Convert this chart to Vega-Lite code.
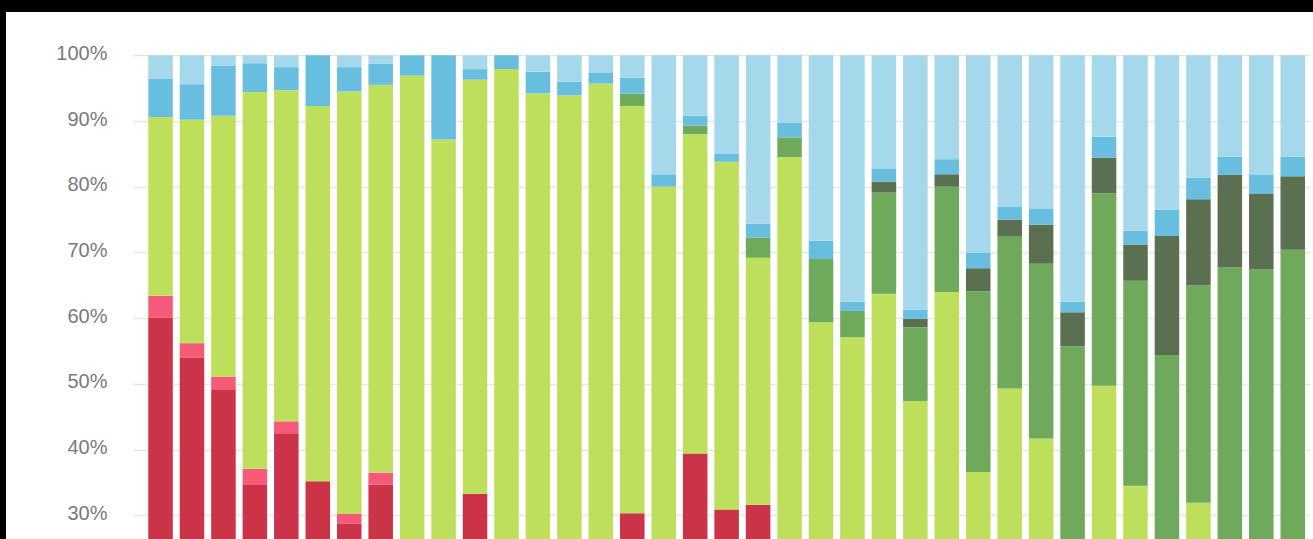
{
  "$schema": "https://vega.github.io/schema/vega-lite/v6.json",
  "width": 1307,
  "height": 527,
  "autosize": {"type": "none"},
  "padding": {"left": 6, "top": 12, "right": 0, "bottom": 0},
  "background": "#000000",
  "config": {"view": {"fill": "#ffffff", "stroke": null}},
  "data": {"values": [
    {"bar": 1, "s1": 60.1, "s2": 3.3, "s3": 27.2, "s4": 0, "s5": 0, "s6": 5.8, "s7": 3.6},
    {"bar": 2, "s1": 54.0, "s2": 2.2, "s3": 34.0, "s4": 0, "s5": 0, "s6": 5.4, "s7": 4.4},
    {"bar": 3, "s1": 49.2, "s2": 1.9, "s3": 39.7, "s4": 0, "s5": 0, "s6": 7.6, "s7": 1.6},
    {"bar": 4, "s1": 34.6, "s2": 2.5, "s3": 57.3, "s4": 0, "s5": 0, "s6": 4.4, "s7": 1.2},
    {"bar": 5, "s1": 42.5, "s2": 1.8, "s3": 50.4, "s4": 0, "s5": 0, "s6": 3.5, "s7": 1.8},
    {"bar": 6, "s1": 35.2, "s2": 0, "s3": 57.1, "s4": 0, "s5": 0, "s6": 7.7, "s7": 0},
    {"bar": 7, "s1": 28.7, "s2": 1.5, "s3": 64.3, "s4": 0, "s5": 0, "s6": 3.7, "s7": 1.8},
    {"bar": 8, "s1": 34.7, "s2": 1.8, "s3": 59.0, "s4": 0, "s5": 0, "s6": 3.2, "s7": 1.3},
    {"bar": 9, "s1": 0, "s2": 0, "s3": 96.9, "s4": 0, "s5": 0, "s6": 3.1, "s7": 0},
    {"bar": 10, "s1": 0, "s2": 0, "s3": 87.2, "s4": 0, "s5": 0, "s6": 12.8, "s7": 0},
    {"bar": 11, "s1": 33.3, "s2": 0, "s3": 63.0, "s4": 0, "s5": 0, "s6": 1.6, "s7": 2.1},
    {"bar": 12, "s1": 0, "s2": 0, "s3": 97.9, "s4": 0, "s5": 0, "s6": 2.1, "s7": 0},
    {"bar": 13, "s1": 0, "s2": 0, "s3": 94.2, "s4": 0, "s5": 0, "s6": 3.3, "s7": 2.5},
    {"bar": 14, "s1": 0, "s2": 0, "s3": 93.9, "s4": 0, "s5": 0, "s6": 2.1, "s7": 4.0},
    {"bar": 15, "s1": 0, "s2": 0, "s3": 95.7, "s4": 0, "s5": 0, "s6": 1.7, "s7": 2.6},
    {"bar": 16, "s1": 30.3, "s2": 0, "s3": 62.0, "s4": 1.9, "s5": 0, "s6": 2.4, "s7": 3.4},
    {"bar": 17, "s1": 0, "s2": 0, "s3": 80.0, "s4": 0, "s5": 0, "s6": 1.9, "s7": 18.1},
    {"bar": 18, "s1": 39.4, "s2": 0, "s3": 48.6, "s4": 1.3, "s5": 0, "s6": 1.5, "s7": 9.2},
    {"bar": 19, "s1": 30.9, "s2": 0, "s3": 52.9, "s4": 0, "s5": 0, "s6": 1.2, "s7": 15.0},
    {"bar": 20, "s1": 31.6, "s2": 0, "s3": 37.6, "s4": 3.1, "s5": 0, "s6": 2.1, "s7": 25.6},
    {"bar": 21, "s1": 0, "s2": 0, "s3": 84.5, "s4": 3.0, "s5": 0, "s6": 2.2, "s7": 10.3},
    {"bar": 22, "s1": 0, "s2": 0, "s3": 59.4, "s4": 9.6, "s5": 0, "s6": 2.8, "s7": 28.2},
    {"bar": 23, "s1": 0, "s2": 0, "s3": 57.1, "s4": 4.0, "s5": 0, "s6": 1.4, "s7": 37.5},
    {"bar": 24, "s1": 0, "s2": 0, "s3": 63.7, "s4": 15.4, "s5": 1.7, "s6": 2.0, "s7": 17.2},
    {"bar": 25, "s1": 0, "s2": 0, "s3": 47.4, "s4": 11.2, "s5": 1.3, "s6": 1.4, "s7": 38.7},
    {"bar": 26, "s1": 0, "s2": 0, "s3": 64.0, "s4": 16.0, "s5": 1.9, "s6": 2.3, "s7": 15.8},
    {"bar": 27, "s1": 0, "s2": 0, "s3": 36.6, "s4": 27.5, "s5": 3.5, "s6": 2.4, "s7": 30.0},
    {"bar": 28, "s1": 0, "s2": 0, "s3": 49.3, "s4": 23.2, "s5": 2.5, "s6": 2.0, "s7": 23.0},
    {"bar": 29, "s1": 0, "s2": 0, "s3": 41.7, "s4": 26.6, "s5": 5.9, "s6": 2.4, "s7": 23.4},
    {"bar": 30, "s1": 0, "s2": 0, "s3": 0, "s4": 55.7, "s5": 5.2, "s6": 1.6, "s7": 37.5},
    {"bar": 31, "s1": 0, "s2": 0, "s3": 49.7, "s4": 29.3, "s5": 5.4, "s6": 3.2, "s7": 12.4},
    {"bar": 32, "s1": 0, "s2": 0, "s3": 34.5, "s4": 31.2, "s5": 5.5, "s6": 2.1, "s7": 26.7},
    {"bar": 33, "s1": 0, "s2": 0, "s3": 0, "s4": 54.4, "s5": 18.1, "s6": 4.0, "s7": 23.5},
    {"bar": 34, "s1": 0, "s2": 0, "s3": 31.9, "s4": 33.1, "s5": 13.1, "s6": 3.3, "s7": 18.6},
    {"bar": 35, "s1": 0, "s2": 0, "s3": 0, "s4": 67.7, "s5": 14.1, "s6": 2.8, "s7": 15.4},
    {"bar": 36, "s1": 0, "s2": 0, "s3": 0, "s4": 67.4, "s5": 11.5, "s6": 2.9, "s7": 18.2},
    {"bar": 37, "s1": 0, "s2": 0, "s3": 0, "s4": 70.4, "s5": 11.2, "s6": 3.0, "s7": 15.4}
  ]},
  "transform": [{"fold": ["s1", "s2", "s3", "s4", "s5", "s6", "s7"], "as": ["seg", "pct"]}],
  "mark": {"type": "bar", "clip": true},
  "encoding": {
    "x": {
      "field": "bar",
      "type": "ordinal",
      "axis": null,
      "scale": {"range": [127, 1304], "paddingInner": 0.22, "paddingOuter": 0.322, "align": 0.754, "round": false}
    },
    "y": {
      "field": "pct",
      "type": "quantitative",
      "stack": "zero",
      "scale": {"domain": [26.4, 106.59], "nice": false, "zero": false},
      "axis": {
        "title": null,
        "values": [30, 40, 50, 60, 70, 80, 90, 100],
        "labelExpr": "datum.value + '%'",
        "domain": false,
        "ticks": false,
        "tickSize": 0,
        "labelPadding": 0,
        "offset": -101,
        "labelFont": "Liberation Sans",
        "labelFontSize": 20,
        "labelColor": "#7a7a7a",
        "labelOffset": -2,
        "gridColor": "#e6e6e6",
        "gridWidth": 1.5
      }
    },
    "color": {
      "field": "seg",
      "type": "nominal",
      "legend": null,
      "scale": {
        "domain": ["s1", "s2", "s3", "s4", "s5", "s6", "s7"],
        "range": ["#cb3448", "#f55a78", "#bedf5c", "#6fa95c", "#5a7050", "#68bedf", "#a6d8ec"]
      }
    },
    "order": {"field": "seg", "sort": "ascending"}
  }
}
